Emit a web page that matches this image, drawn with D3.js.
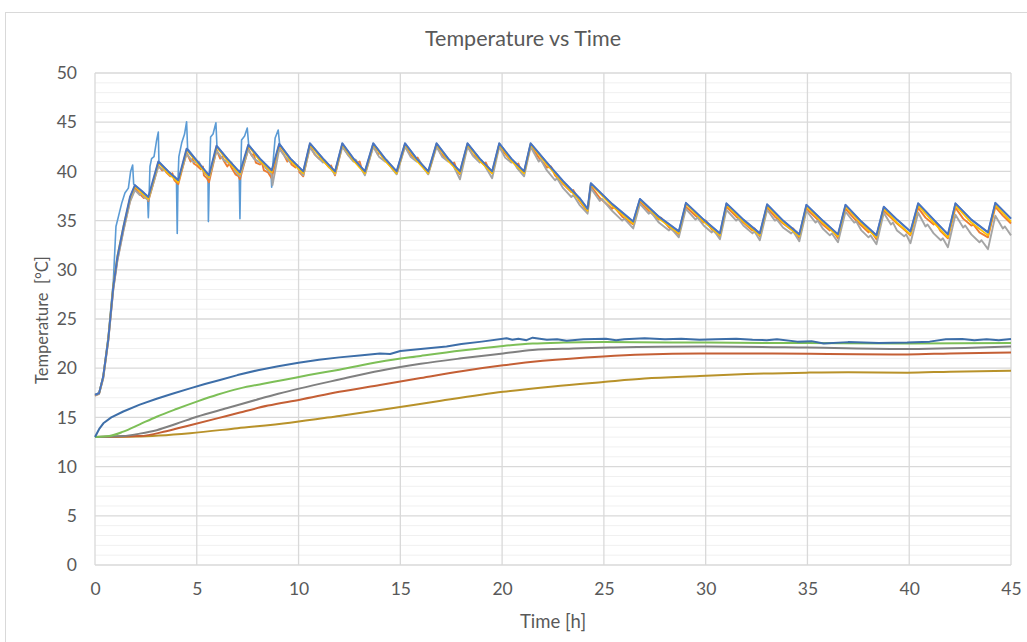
<!DOCTYPE html>
<html><head><meta charset="utf-8">
<script src="https://cdn.jsdelivr.net/npm/d3@7"></script>
<style>
html,body{margin:0;padding:0;background:#fff;}
svg{display:block;font-family:Lato,"Open Sans",sans-serif;}
</style></head>
<body><svg id="chart" width="1027" height="642"></svg>
<script>
const title = "Temperature vs Time";
const xTitle = "Time [h]";
const yTitle = "Temperature  [°C]";
const xTicks = [0,5,10,15,20,25,30,35,40,45];
const yTicks = [0,5,10,15,20,25,30,35,40,45,50];

// Upper group (sawtooth), [time h, temperature °C]
const blueTop = [[0,17.3],[0.2,17.45],[0.4,19.1],[0.65,22.9],[0.9,28.3],[1.1,31.3],[1.4,34.4],[1.72,37.4],[1.96,38.6],[2.3,38.0],[2.62,37.4],[3.11,41.0],[3.6,40.0],[4.09,39.1],[4.5,42.3],[5.0,41.1],[5.6,39.6],[5.97,42.6],[6.5,41.3],[7.12,39.9],[7.53,42.7],[8.1,41.3],[8.68,40.1],[9.05,42.8],[9.6,41.3],[10.23,40.0],[10.56,42.85],[11.2,41.3],[11.79,40.0],[12.15,42.85],[12.7,41.3],[13.26,40.0],[13.67,42.85],[14.25,41.3],[14.82,40.0],[15.23,42.85],[15.8,41.3],[16.37,40.0],[16.78,42.85],[17.35,41.3],[17.93,40.0],[18.3,42.85],[18.9,41.3],[19.51,40.0],[19.86,42.85],[20.45,41.3],[21.08,40.0],[21.4,42.85],[22.2,40.9],[23.0,39.0],[23.8,37.3],[24.2,36.2],[24.36,38.8],[25.4,36.7],[26.44,34.9],[26.77,37.2],[27.7,35.4],[28.68,33.9],[29.03,36.8],[29.9,35.1],[30.7,33.7],[31.02,36.75],[31.85,35.1],[32.66,33.7],[33.02,36.65],[33.8,35.0],[34.6,33.6],[34.95,36.6],[35.75,35.0],[36.5,33.6],[36.87,36.6],[37.65,34.9],[38.39,33.5],[38.75,36.4],[39.4,35.1],[40.06,33.9],[40.44,36.75],[41.2,35.1],[41.9,33.6],[42.27,36.75],[43.05,35.1],[43.87,33.8],[44.23,36.8],[45.0,35.2]];

const yellowTop = [[0,17.3],[0.2,17.45],[0.4,19.1],[0.65,23.0],[0.9,28.5],[1.1,31.4],[1.4,34.4],[1.72,37.3],[1.96,38.5],[2.3,37.8],[2.62,37.2],[3.11,40.9],[3.6,39.8],[4.09,38.9],[4.5,42.2],[5.0,40.9],[5.6,39.4],[5.97,42.5],[6.5,41.1],[7.12,39.7],[7.53,42.6],[8.1,41.1],[8.68,39.9],[9.05,42.7],[9.6,41.1],[10.23,39.8],[10.56,42.75],[11.2,41.1],[11.79,39.8],[12.15,42.75],[12.7,41.1],[13.26,39.8],[13.67,42.75],[14.25,41.1],[14.82,39.8],[15.23,42.75],[15.8,41.1],[16.37,39.8],[16.78,42.75],[17.35,41.1],[17.93,39.8],[18.3,42.75],[18.9,41.1],[19.51,39.8],[19.86,42.75],[20.45,41.1],[21.08,39.8],[21.4,42.75],[22.2,40.7],[23.0,38.8],[23.8,37.1],[24.2,36.0],[24.36,38.7],[25.4,36.5],[26.44,34.7],[26.77,37.1],[27.7,35.2],[28.68,33.7],[29.03,36.7],[29.9,34.9],[30.7,33.5],[31.02,36.6],[31.85,34.9],[32.66,33.5],[33.02,36.5],[33.8,34.8],[34.6,33.4],[34.95,36.45],[35.75,34.8],[36.5,33.4],[36.87,36.45],[37.65,34.7],[38.39,33.3],[38.75,36.25],[39.4,34.8],[40.06,33.6],[40.44,36.55],[41.2,34.8],[41.9,33.3],[42.27,36.55],[43.05,34.8],[43.87,33.5],[44.23,36.6],[45.0,34.9]];

const orangeTop = [[0,17.2],[0.2,17.4],[0.4,19.0],[0.65,22.8],[0.9,28.1],[1.1,31.0],[1.4,34.1],[1.72,37.0],[1.96,38.3],[2.2,37.7],[2.4,37.3],[2.5,37.5],[2.62,37.0],[3.11,40.6],[3.3,40.1],[3.4,40.3],[3.5,39.9],[3.7,39.5],[3.8,39.8],[3.9,39.1],[4.09,38.7],[4.5,41.9],[4.7,41.0],[4.8,41.3],[4.85,40.8],[5.0,40.6],[5.2,40.2],[5.3,40.5],[5.35,39.6],[5.5,39.3],[5.6,38.9],[5.97,42.2],[6.15,41.3],[6.25,41.5],[6.35,41.0],[6.5,40.5],[6.6,40.8],[6.7,40.4],[6.9,39.7],[7.05,39.5],[7.12,39.2],[7.53,42.3],[7.7,41.6],[7.8,41.8],[7.9,40.9],[8.1,40.7],[8.2,40.9],[8.3,40.1],[8.5,39.9],[8.68,39.3],[9.05,42.4],[9.25,41.8],[9.45,41.0],[9.55,41.3],[9.65,40.7],[9.85,40.4],[9.95,40.6],[10.05,39.9],[10.23,39.5],[10.56,42.6],[10.8,41.7],[11.0,41.3],[11.1,41.5],[11.3,40.9],[11.5,40.4],[11.6,40.6],[11.79,39.6],[12.15,42.6],[12.4,41.8],[12.6,41.3],[12.9,40.9],[13.0,41.0],[13.1,40.3],[13.26,39.7],[13.67,42.6],[13.9,41.7],[14.0,41.9],[14.2,41.2],[14.4,40.8],[14.65,40.2],[14.82,39.8],[15.23,42.6],[15.5,41.7],[15.75,41.2],[15.85,41.4],[16.0,40.8],[16.2,40.3],[16.37,39.8],[16.78,42.6],[17.0,41.8],[17.3,41.2],[17.55,40.7],[17.65,40.9],[17.8,40.0],[17.93,39.7],[18.3,42.6],[18.55,41.7],[18.8,41.3],[19.1,40.7],[19.2,40.9],[19.35,40.2],[19.51,39.8],[19.86,42.6],[20.1,41.9],[20.4,41.2],[20.7,40.6],[20.8,40.8],[20.9,40.2],[21.08,39.8],[21.4,42.6],[21.8,41.4],[22.2,40.4],[22.4,40.5],[22.6,39.6],[23.0,38.7],[23.4,37.9],[23.5,38.1],[23.8,37.0],[24.2,35.9],[24.36,38.5],[24.8,37.3],[25.4,36.2],[25.5,36.4],[25.9,35.4],[26.44,34.6],[26.77,36.9],[27.2,36.0],[27.7,35.1],[27.8,35.3],[28.2,34.3],[28.68,33.6],[29.03,36.4],[29.5,35.5],[29.9,34.8],[30.0,35.0],[30.3,34.1],[30.7,33.4],[31.02,36.4],[31.5,35.4],[31.85,34.8],[32.3,34.0],[32.4,34.2],[32.66,33.4],[33.02,36.3],[33.4,35.4],[33.8,34.7],[34.2,34.1],[34.3,34.2],[34.6,33.2],[34.95,36.2],[35.4,35.3],[35.75,34.6],[36.1,34.0],[36.2,34.1],[36.5,33.2],[36.87,36.2],[37.3,35.2],[37.65,34.5],[38.0,33.8],[38.1,34.0],[38.39,33.1],[38.75,36.0],[39.1,35.3],[39.4,34.7],[39.75,34.1],[40.06,33.5],[40.44,36.3],[40.8,35.3],[41.2,34.6],[41.3,34.8],[41.55,33.9],[41.9,33.2],[42.27,36.3],[42.65,35.2],[43.05,34.5],[43.15,34.6],[43.45,33.8],[43.87,33.3],[44.23,36.4],[44.6,35.5],[45.0,34.7]];

const grayTop = [[0,17.2],[0.2,17.4],[0.4,18.9],[0.65,22.7],[0.9,28.0],[1.1,30.9],[1.4,34.0],[1.72,36.9],[1.96,38.1],[2.2,37.6],[2.3,37.8],[2.4,37.4],[2.62,37.1],[3.11,40.5],[3.4,40.1],[3.5,40.2],[3.7,39.6],[3.9,39.5],[4.09,39.0],[4.5,41.8],[4.8,41.0],[5.0,40.9],[5.1,41.0],[5.3,40.1],[5.6,39.3],[5.97,42.1],[6.3,41.2],[6.6,40.8],[6.7,40.9],[6.9,40.0],[7.12,39.5],[7.53,42.2],[7.8,41.3],[8.1,40.9],[8.2,41.0],[8.4,40.3],[8.68,39.7],[8.72,38.6],[9.05,42.3],[9.3,41.6],[9.6,40.9],[9.7,41.1],[9.9,40.5],[10.23,39.6],[10.56,42.4],[10.9,41.5],[11.2,40.9],[11.3,41.1],[11.5,40.5],[11.79,39.7],[12.15,42.5],[12.45,41.6],[12.7,41.0],[12.8,41.2],[13.0,40.6],[13.26,39.6],[13.67,42.5],[13.95,41.5],[14.25,41.0],[14.35,41.1],[14.55,40.4],[14.82,39.7],[15.23,42.5],[15.5,41.5],[15.8,41.0],[15.9,41.2],[16.1,40.5],[16.37,39.7],[16.78,42.5],[17.05,41.5],[17.35,41.0],[17.45,41.1],[17.65,40.4],[17.93,39.2],[18.3,42.5],[18.6,41.5],[18.9,40.9],[19.0,41.1],[19.2,40.4],[19.51,39.3],[19.86,42.5],[20.15,41.4],[20.45,40.9],[20.55,41.0],[20.75,40.3],[21.08,39.5],[21.4,42.5],[21.8,41.0],[21.9,41.2],[22.2,40.1],[22.6,39.1],[22.7,39.3],[23.0,38.3],[23.4,37.4],[23.5,37.6],[23.8,36.6],[24.2,35.7],[24.36,38.3],[24.8,37.0],[24.9,37.2],[25.4,36.0],[25.9,35.0],[26.0,35.2],[26.44,34.2],[26.77,36.7],[27.2,35.7],[27.3,35.9],[27.7,34.8],[28.2,34.0],[28.3,34.2],[28.68,33.3],[29.03,36.2],[29.5,35.1],[29.6,35.3],[29.9,34.5],[30.3,33.8],[30.4,34.0],[30.7,33.1],[31.02,36.1],[31.5,35.0],[31.6,35.2],[31.85,34.5],[32.3,33.7],[32.4,33.9],[32.66,33.0],[33.02,36.1],[33.4,35.0],[33.5,35.1],[33.8,34.3],[34.2,33.7],[34.3,33.9],[34.6,32.9],[34.95,36.0],[35.4,34.8],[35.5,35.0],[35.75,34.2],[36.1,33.5],[36.2,33.7],[36.5,32.8],[36.87,35.9],[37.3,34.8],[37.4,34.9],[37.65,34.0],[38.0,33.3],[38.1,33.5],[38.39,32.6],[38.75,35.8],[39.1,34.6],[39.2,34.8],[39.4,34.0],[39.75,33.4],[39.85,33.6],[40.06,32.7],[40.44,35.8],[40.8,34.4],[40.9,34.6],[41.2,33.7],[41.55,33.0],[41.65,33.2],[41.9,32.3],[42.27,35.6],[42.65,34.3],[42.75,34.5],[43.05,33.6],[43.45,32.8],[43.55,33.0],[43.87,32.1],[44.23,35.5],[44.6,34.2],[44.7,34.4],[45.0,33.5]];

const lightBlueTop = [[0,17.3],[0.2,17.5],[0.4,19.2],[0.65,23.2],[0.9,28.8],[1.03,34.4],[1.15,35.4],[1.31,36.75],[1.47,37.8],[1.64,38.3],[1.75,40.0],[1.85,40.65],[1.9,38.7],[1.96,38.6],[2.3,38.0],[2.58,37.5],[2.62,35.3],[2.66,37.6],[2.7,40.5],[2.78,41.3],[2.9,41.5],[3.03,43.2],[3.11,44.0],[3.14,41.0],[3.6,40.0],[4.0,39.2],[4.04,33.7],[4.08,39.3],[4.12,41.5],[4.26,42.9],[4.4,43.8],[4.5,45.05],[4.55,42.3],[5.0,41.1],[5.55,39.7],[5.57,34.9],[5.62,39.8],[5.68,43.5],[5.8,43.8],[5.94,44.95],[5.99,42.6],[6.5,41.3],[7.08,39.9],[7.12,35.2],[7.16,40.0],[7.2,43.2],[7.35,43.6],[7.48,44.4],[7.55,42.7],[8.1,41.3],[8.64,40.2],[8.68,38.4],[8.72,40.3],[8.85,43.4],[9.0,44.2],[9.07,42.8],[9.6,41.3],[10.23,40.0],[10.56,42.85],[11.2,41.3],[11.79,40.0],[12.15,42.85],[12.7,41.3],[13.26,40.0],[13.67,42.85],[14.25,41.3],[14.82,40.0],[15.23,42.85],[15.8,41.3],[16.37,40.0],[16.78,42.85],[17.35,41.3],[17.93,40.0],[18.3,42.85],[18.9,41.3],[19.51,40.0],[19.86,42.85],[20.45,41.3],[21.08,40.0],[21.4,42.85],[22.2,40.9],[23.0,39.0],[23.8,37.3],[24.2,36.2],[24.36,38.8],[25.4,36.7],[26.44,34.9],[26.77,37.2],[27.7,35.4],[28.68,33.9],[29.03,36.8],[29.9,35.1],[30.7,33.7],[31.02,36.75],[31.85,35.1],[32.66,33.7],[33.02,36.65],[33.8,35.0],[34.6,33.6],[34.95,36.6],[35.75,35.0],[36.5,33.6],[36.87,36.6],[37.65,34.9],[38.39,33.5],[38.75,36.4],[39.4,35.1],[40.06,33.9],[40.44,36.75],[41.2,35.1],[41.9,33.6],[42.27,36.75],[43.05,35.1],[43.87,33.8],[44.23,36.8],[45.0,35.2]];

// Lower group
const blueLow = [[0,13.0],[0.2,13.8],[0.41,14.4],[0.8,15.0],[1.39,15.6],[2.2,16.3],[3.03,16.9],[3.8,17.4],[4.67,17.95],[5.4,18.4],[6.14,18.8],[7.0,19.3],[8.0,19.8],[9.0,20.2],[10.0,20.55],[11.0,20.85],[12.0,21.1],[13.0,21.3],[14.0,21.5],[14.5,21.45],[15.0,21.75],[16.0,21.95],[17.27,22.2],[18.0,22.45],[19.0,22.7],[20.22,23.04],[20.5,22.9],[20.8,23.0],[21.2,22.85],[21.5,23.1],[22.2,22.9],[22.7,22.95],[23.17,22.8],[24.0,22.95],[25.1,23.0],[25.6,22.85],[26.0,22.95],[27.0,23.05],[28.0,22.95],[28.8,23.0],[29.7,22.9],[30.5,22.95],[31.5,23.0],[32.3,22.9],[33.0,22.85],[33.5,22.95],[34.5,22.7],[35.2,22.75],[35.8,22.5],[37.0,22.65],[38.5,22.55],[39.9,22.6],[41.0,22.7],[41.8,22.95],[42.6,22.97],[43.2,22.85],[43.8,22.95],[44.4,22.85],[45.0,22.97]];
const greenLow = [[0,13.0],[0.7,13.1],[1.39,13.55],[2.2,14.3],[3.03,15.07],[4.0,15.85],[5.0,16.6],[6.0,17.3],[7.12,17.95],[8.2,18.4],[9.25,18.8],[10.5,19.3],[12.0,19.85],[14.0,20.66],[16.0,21.25],[18.0,21.8],[20.05,22.26],[21.5,22.5],[23.0,22.6],[25.0,22.65],[30.0,22.6],[35.0,22.55],[40.0,22.5],[45.0,22.55]];
const grayLow = [[0,13.0],[1.39,13.1],[2.2,13.35],[3.03,13.7],[4.0,14.35],[5.0,15.07],[6.5,15.95],[7.94,16.8],[9.0,17.4],[10.07,17.95],[12.0,18.85],[14.0,19.75],[16.0,20.45],[18.0,21.0],[20.05,21.5],[21.5,21.85],[23.5,22.0],[25.46,22.1],[30.0,22.2],[35.0,22.1],[40.0,21.95],[45.0,22.2]];
const brownLow = [[0,13.0],[2.2,13.1],[3.5,13.6],[4.67,14.2],[6.0,14.9],[7.12,15.5],[8.5,16.2],[10.07,16.8],[12.0,17.6],[14.0,18.3],[16.0,19.0],[18.0,19.7],[20.05,20.3],[22.0,20.75],[24.97,21.2],[27.0,21.4],[29.7,21.5],[33.0,21.5],[36.0,21.45],[39.9,21.4],[42.0,21.5],[45.0,21.6]];
const goldLow = [[0,13.0],[2.0,13.05],[4.67,13.4],[7.0,13.9],[9.58,14.46],[12.0,15.15],[14.5,15.9],[17.0,16.7],[20.05,17.6],[22.5,18.15],[24.97,18.6],[27.0,18.95],[29.7,19.2],[32.0,19.4],[34.95,19.55],[37.0,19.6],[39.9,19.55],[42.0,19.65],[45.0,19.75]];

const svg = d3.select("#chart");
const m = {left:95, right:1011, top:73, bottom:565};

// chart frame
svg.append("rect").attr("x",5.5).attr("y",12.5).attr("width",1040).attr("height",700)
  .attr("fill","#fff").attr("stroke","#d9d9d9").attr("stroke-width",1);

const x = d3.scaleLinear().domain([0,45]).range([m.left,m.right]);
const y = d3.scaleLinear().domain([0,50]).range([m.bottom,m.top]);

// minor gridlines
svg.append("g").selectAll("line").data(d3.range(0,51,1).filter(v=>v%5!==0)).join("line")
  .attr("x1",m.left).attr("x2",m.right).attr("y1",d=>y(d)).attr("y2",d=>y(d))
  .attr("stroke","#f0f0f0").attr("stroke-width",1);
// major gridlines
const gMajor = svg.append("g");
gMajor.selectAll("line.h").data(yTicks).join("line").attr("class","h")
  .attr("x1",m.left).attr("x2",m.right).attr("y1",d=>y(d)).attr("y2",d=>y(d))
  .attr("stroke","#d9d9d9").attr("stroke-width",1.3);
gMajor.selectAll("line.v").data(xTicks).join("line").attr("class","v")
  .attr("y1",m.top).attr("y2",m.bottom).attr("x1",d=>x(d)).attr("x2",d=>x(d))
  .attr("stroke","#d9d9d9").attr("stroke-width",1.3);

// axes
const xAxis = svg.append("g").attr("transform",`translate(0,${m.bottom})`)
  .call(d3.axisBottom(x).tickValues(xTicks).tickSize(0).tickPadding(18));
const yAxis = svg.append("g").attr("transform",`translate(${m.left},0)`)
  .call(d3.axisLeft(y).tickValues(yTicks).tickSize(0).tickPadding(18));
[xAxis,yAxis].forEach(a=>{
  a.select(".domain").remove();
  a.selectAll("text").attr("fill","#595959").style("font-size","17.5px").style("font-family","Lato,'Open Sans',sans-serif");
});

const line = d3.line().x(d=>x(d[0])).y(d=>y(d[1]));
const smooth = d3.line().x(d=>x(d[0])).y(d=>y(d[1])).curve(d3.curveMonotoneX);

const plot = svg.append("g");
function draw(data, color, gen, w){
  plot.append("path").datum(data).attr("d",gen).attr("fill","none")
    .attr("stroke",color).attr("stroke-width",w).attr("stroke-linejoin","round");
}
draw(goldLow,"#b8922a",smooth,2);
draw(brownLow,"#c45f35",smooth,2);
draw(grayLow,"#808080",smooth,2);
draw(greenLow,"#7dbf57",smooth,2);
draw(blueLow,"#3d6ea8",line,2);

draw(lightBlueTop,"#5b9bd5",line,1.6);
draw(orangeTop,"#ed7d31",line,1.9);
draw(grayTop,"#a5a5a5",line,1.9);
draw(yellowTop,"#ffc000",line,1.8);
draw(blueTop,"#4a74c0",line,2);

// titles
svg.append("text").attr("x",523).attr("y",46).attr("text-anchor","middle")
  .attr("fill","#595959").style("font-size","21.5px").text(title);
svg.append("text").attr("x",(m.left+m.right)/2).attr("y",628).attr("text-anchor","middle")
  .attr("fill","#595959").style("font-size","18.5px").text(xTitle);
svg.append("text").attr("transform","translate(48,320) rotate(-90)").attr("text-anchor","middle")
  .style("white-space","pre")
  .attr("fill","#595959").style("font-size","16.5px").text(yTitle);
</script></body></html>
